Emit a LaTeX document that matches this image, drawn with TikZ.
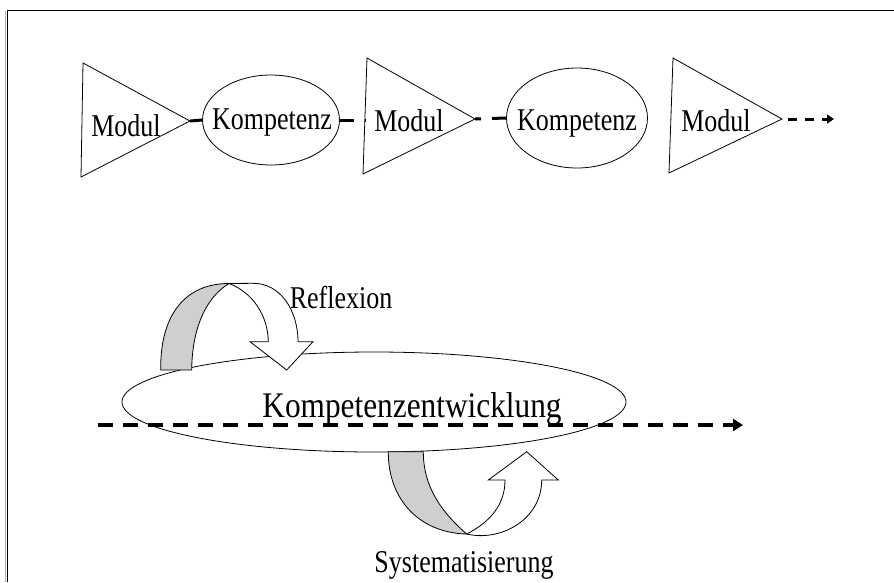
\documentclass[tikz,border=0pt]{standalone}
\usepackage{fontspec}
\setmainfont{Liberation Serif}
\newfontfamily\labelfont[FakeStretch=0.82]{Liberation Serif}
\newfontfamily\titlefont[FakeStretch=0.87]{Liberation Serif}
\usetikzlibrary{shapes.geometric,arrows.meta}
\begin{document}
\begin{tikzpicture}[x=1pt,y=-1pt,
  lbl/.style={font=\labelfont\fontsize{31.7}{36}\selectfont, inner sep=0pt, anchor=base},
  biglbl/.style={font=\titlefont\fontsize{36}{40}\selectfont, inner sep=0pt, anchor=base},
  oval/.style={draw, ellipse, line width=0.8pt, inner sep=0pt},
  tri/.style={draw, line width=0.8pt, line join=miter},
  link/.style={line width=3pt, dash pattern=on 14pt off 11pt},
  tailflow/.style={line width=3pt, dash pattern=on 9pt off 8pt, dash phase=11pt,
    -{Triangle[length=7pt,width=9pt]}},
  flow/.style={line width=3.5pt, dash pattern=on 15pt off 10pt,
    -{Triangle[length=10pt,width=12pt]}},
  band/.style={draw, line width=0.8pt, fill=gray!38},
  front/.style={draw, line width=0.8pt, fill=white, line join=miter}]
\useasboundingbox (0,0) rectangle (894,582);

% page frame
\draw[gray!60, line width=1pt] (5.8,11) -- (5.8,582);
\draw[line width=1.3pt] (894,10.5) -- (7.5,10.5) -- (7.5,582);

% ---- upper chain: Modul -> Kompetenz -> Modul -> Kompetenz -> Modul ----
\coordinate (m1a) at (83,63);  \coordinate (m1b) at (81,177);  \coordinate (m1t) at (190,121);
\coordinate (m2a) at (367,58); \coordinate (m2b) at (363,174); \coordinate (m2t) at (475,119);
\coordinate (m3a) at (673,58); \coordinate (m3b) at (669,173); \coordinate (m3t) at (782,119);
\coordinate (m2e) at (365,120);
\coordinate (endtop) at (834,119);

\draw[tri] (m1a) -- (m1t) -- (m1b) -- cycle;
\draw[tri] (m2a) -- (m2t) -- (m2b) -- cycle;
\draw[tri] (m3a) -- (m3t) -- (m3b) -- cycle;

\node[oval, minimum width=137pt, minimum height=90pt] (k1) at (271,120) {};
\node[oval, minimum width=141pt, minimum height=100pt] (k2) at (577,118) {};

\node[lbl] (m1txt) at (126,136) {Modul};
\node[lbl] (k1txt) at (272,129) {Kompetenz};
\node[lbl] (m2txt) at (409,131) {Modul};
\node[lbl] (k2txt) at (577,130) {Kompetenz};
\node[lbl] (m3txt) at (716,131) {Modul};

\draw[link] (m1t) -- (k1.west);
\draw[link] (k1.east) -- (m2e);
\draw[link, dash phase=8pt] (m2t) -- (k2.west);
\draw[tailflow] (m3t) -- (endtop);

% ---- lower part: development ellipse with the two turning arrows ----
\node[oval, minimum width=504pt, minimum height=100pt] (kev) at (374,402) {};
\node[biglbl] (kevtxt) at (412,417) {Kompetenzentwicklung};

% Reflexion: ribbon arrow coming down onto the ellipse
\coordinate (rj) at (229,283.5);
\draw[band] (160.7,370) .. controls (160,315) and (185,283.5) .. (rj)
  .. controls (205,298) and (192,330) .. (191.7,370) -- cycle;
\draw[front] (rj) -- (253,283.3) .. controls (280,283) and (298,310) .. (298,341.7)
  -- (313,341.7) -- (286.7,370) -- (250,341.7) -- (268.3,341.7)
  .. controls (268,315) and (252,292) .. (rj) -- cycle;
\node[lbl] (refl) at (341,308) {Reflexion};

% Systematisierung: ribbon arrow turning back up towards the ellipse
\coordinate (sj) at (466.7,534);
\draw[band] (388.3,451.7) .. controls (388,500) and (420,533) .. (sj)
  .. controls (445,515) and (423.3,490) .. (423.3,451.7) -- cycle;
\draw[front] (sj) .. controls (500,542) and (541.7,520) .. (541.7,480)
  -- (558.3,480) -- (526.7,451.7) -- (488.3,480) -- (505,480)
  .. controls (505,505) and (490,522) .. (sj) -- cycle;
\node[lbl] (syst) at (464,572) {Systematisierung};

% time axis
\coordinate (fs) at (98,425);
\coordinate (fe) at (743,425);
\draw[flow] (fs) -- (fe);
\end{tikzpicture}
\end{document}
